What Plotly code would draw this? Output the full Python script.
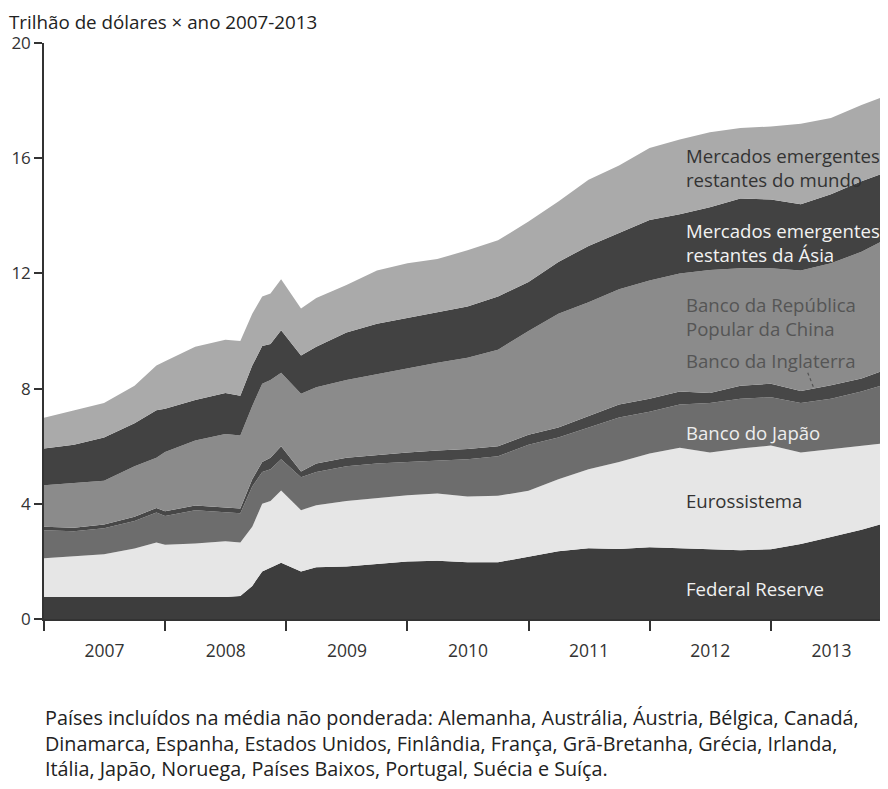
import plotly.graph_objects as go

dates = ["2007-01-01", "2007-04-01", "2007-07-01", "2007-10-01", "2007-12-06",
         "2008-01-01", "2008-04-01", "2008-07-01", "2008-08-15", "2008-09-20",
         "2008-10-20", "2008-11-14", "2008-12-16", "2009-02-14", "2009-04-01",
         "2009-07-01", "2009-10-01", "2010-01-01", "2010-04-01", "2010-07-01",
         "2010-10-01", "2011-01-01", "2011-04-01", "2011-07-01", "2011-10-01",
         "2012-01-01", "2012-04-01", "2012-07-01", "2012-10-01", "2013-01-01",
         "2013-04-01", "2013-07-01", "2013-10-01", "2013-12-20"]

federal_reserve = [0.76, 0.76, 0.76, 0.76, 0.76, 0.76, 0.76, 0.76, 0.80, 1.15,
                   1.65, 1.78, 1.95, 1.65, 1.80, 1.82, 1.92, 2.00, 2.02, 1.97,
                   1.97, 2.15, 2.35, 2.46, 2.43, 2.49, 2.46, 2.42, 2.39, 2.42,
                   2.60, 2.85, 3.10, 3.36]
eurossistema = [1.35, 1.41, 1.49, 1.69, 1.90, 1.82, 1.86, 1.94, 1.86, 2.05,
                2.35, 2.32, 2.51, 2.13, 2.15, 2.28, 2.28, 2.30, 2.34, 2.28,
                2.31, 2.30, 2.50, 2.74, 3.02, 3.26, 3.49, 3.36, 3.53, 3.60,
                3.18, 3.05, 2.90, 2.76]
banco_japao = [0.97, 0.88, 0.90, 0.95, 1.04, 1.00, 1.16, 1.02, 1.01, 1.40,
               1.10, 1.10, 1.09, 1.14, 1.15, 1.20, 1.20, 1.15, 1.14, 1.30,
               1.37, 1.60, 1.45, 1.45, 1.55, 1.45, 1.50, 1.72, 1.73, 1.68,
               1.72, 1.75, 1.90, 2.05]
banco_inglaterra = [0.12, 0.12, 0.13, 0.15, 0.15, 0.16, 0.16, 0.16, 0.17, 0.25,
                    0.35, 0.40, 0.45, 0.20, 0.30, 0.30, 0.30, 0.33, 0.35, 0.35,
                    0.35, 0.35, 0.35, 0.40, 0.45, 0.45, 0.45, 0.35, 0.45, 0.47,
                    0.42, 0.47, 0.45, 0.52]
banco_china = [1.44, 1.55, 1.52, 1.75, 1.75, 2.06, 2.26, 2.54, 2.53, 2.55,
               2.72, 2.70, 2.55, 2.70, 2.65, 2.70, 2.80, 2.92, 3.05, 3.17,
               3.35, 3.60, 3.95, 3.95, 4.00, 4.10, 4.10, 4.27, 4.08, 4.01,
               4.18, 4.23, 4.40, 4.53]
emergentes_asia = [1.28, 1.33, 1.50, 1.50, 1.65, 1.50, 1.40, 1.43, 1.38, 1.40,
                   1.31, 1.25, 1.48, 1.33, 1.40, 1.65, 1.75, 1.75, 1.75, 1.78,
                   1.85, 1.70, 1.80, 1.95, 1.95, 2.10, 2.05, 2.18, 2.42, 2.39,
                   2.30, 2.40, 2.45, 2.32]
emergentes_mundo = [1.07, 1.20, 1.20, 1.30, 1.55, 1.65, 1.85, 1.85, 1.90, 1.80,
                    1.72, 1.75, 1.77, 1.63, 1.70, 1.65, 1.85, 1.90, 1.85, 1.95,
                    1.95, 2.10, 2.10, 2.30, 2.35, 2.50, 2.60, 2.60, 2.45, 2.53,
                    2.80, 2.65, 2.65, 2.66]

series_names = ["Federal Reserve", "Eurossistema", "Banco do Japão", "Banco da Inglaterra",
                "Banco da República Popular da China",
                "Mercados emergentes restantes da Ásia",
                "Mercados emergentes restantes do mundo"]
series_values = [federal_reserve, eurossistema, banco_japao, banco_inglaterra,
                 banco_china, emergentes_asia, emergentes_mundo]
series_colors = ["#3d3d3d", "#e6e6e6", "#6d6d6d", "#474747", "#8b8b8b", "#424242", "#aaaaaa"]

y_ticks = [0, 4, 8, 12, 16, 20]

FONT = "Open Sans"

fig = go.Figure()
for name, vals, col in zip(series_names, series_values, series_colors):
    fig.add_trace(go.Scatter(
        x=dates, y=vals, name=name, mode="lines", stackgroup="one",
        line=dict(width=0, color=col), fillcolor=col, hoverinfo="skip"))

# page body has an 8px margin, so the figure is drawn 8px smaller and offset
OFF = 8
FIG_W, FIG_H = 888 - OFF, 789 - OFF
W0, W1 = 44 - OFF, 888 - OFF
H0, H1 = 43 - OFF, 619 - OFF

def px(x):
    return (x - OFF - W0) / (W1 - W0)

def py(y):
    return (H1 - (y - OFF)) / (H1 - H0)

labels = [
    ("Mercados emergentes<br>restantes do mundo", 168, "#333333"),
    ("Mercados emergentes<br>restantes da Ásia", 242, "#f2f2f2"),
    ("Banco da República<br>Popular da China", 316, "#555555"),
    ("Banco da Inglaterra", 361, "#555555"),
    ("Banco do Japão", 432, "#eeeeee"),
    ("Eurossistema", 500, "#333333"),
    ("Federal Reserve", 588, "#f0f0f0"),
]
for txt, yc, col in labels:
    fig.add_annotation(x=px(684), y=py(yc), xref="paper", yref="paper",
                       text=txt, showarrow=False, xanchor="left", yanchor="middle",
                       align="left", font=dict(family=FONT, size=18.6, color=col))

fig.add_shape(type="line", xref="x", yref="y",
              x0="2013-04-22", y0=8.55, x1="2013-05-10", y1=8.03,
              line=dict(color="#555555", width=1.2, dash="dot"))

fig.add_annotation(x=px(8), y=py(8), xref="paper", yref="paper",
                   text="Trilhão de dólares × ano 2007-2013", showarrow=False,
                   xanchor="left", yanchor="top", borderpad=0,
                   font=dict(family=FONT, size=18.8, color="#222222"))

fig.add_annotation(x=px(43), y=py(743), xref="paper", yref="paper",
                   text=("Países incluídos na média não ponderada: Alemanha, Austrália, Áustria, Bélgica, Canadá,<br>"
                         "Dinamarca, Espanha, Estados Unidos, Finlândia, França, Grã-Bretanha, Grécia, Irlanda,<br>"
                         "Itália, Japão, Noruega, Países Baixos, Portugal, Suécia e Suíça."),
                   showarrow=False, xanchor="left", yanchor="middle", align="left",
                   font=dict(family=FONT, size=19.8, color="#222222"))

fig.update_layout(
    width=FIG_W, height=FIG_H,
    margin=dict(l=W0, r=FIG_W - W1, t=H0, b=FIG_H - H1, autoexpand=False),
    paper_bgcolor="white", plot_bgcolor="white",
    showlegend=False,
    font=dict(family=FONT, size=16, color="#333333"),
    xaxis=dict(type="date", range=["2007-01-01", "2013-12-20"],
               dtick="M12", tick0="2007-01-01", tickformat="%Y",
               ticklabelmode="period", ticks="outside", ticklen=10,
               ticklabelstandoff=5,
               tickcolor="#333333", tickwidth=1.5, automargin=False,
               showline=True, linecolor="#333333", linewidth=1.5,
               showgrid=False, zeroline=False,
               tickfont=dict(family=FONT, size=17.5, color="#333333")),
    yaxis=dict(range=[0, 20], tickvals=y_ticks, ticks="outside", ticklen=8,
               tickcolor="#333333", tickwidth=1.5, automargin=False,
               showline=True, linecolor="#333333", linewidth=1.5,
               showgrid=False, zeroline=False,
               tickfont=dict(family=FONT, size=17, color="#333333")),
)

fig.write_html("out.html")
